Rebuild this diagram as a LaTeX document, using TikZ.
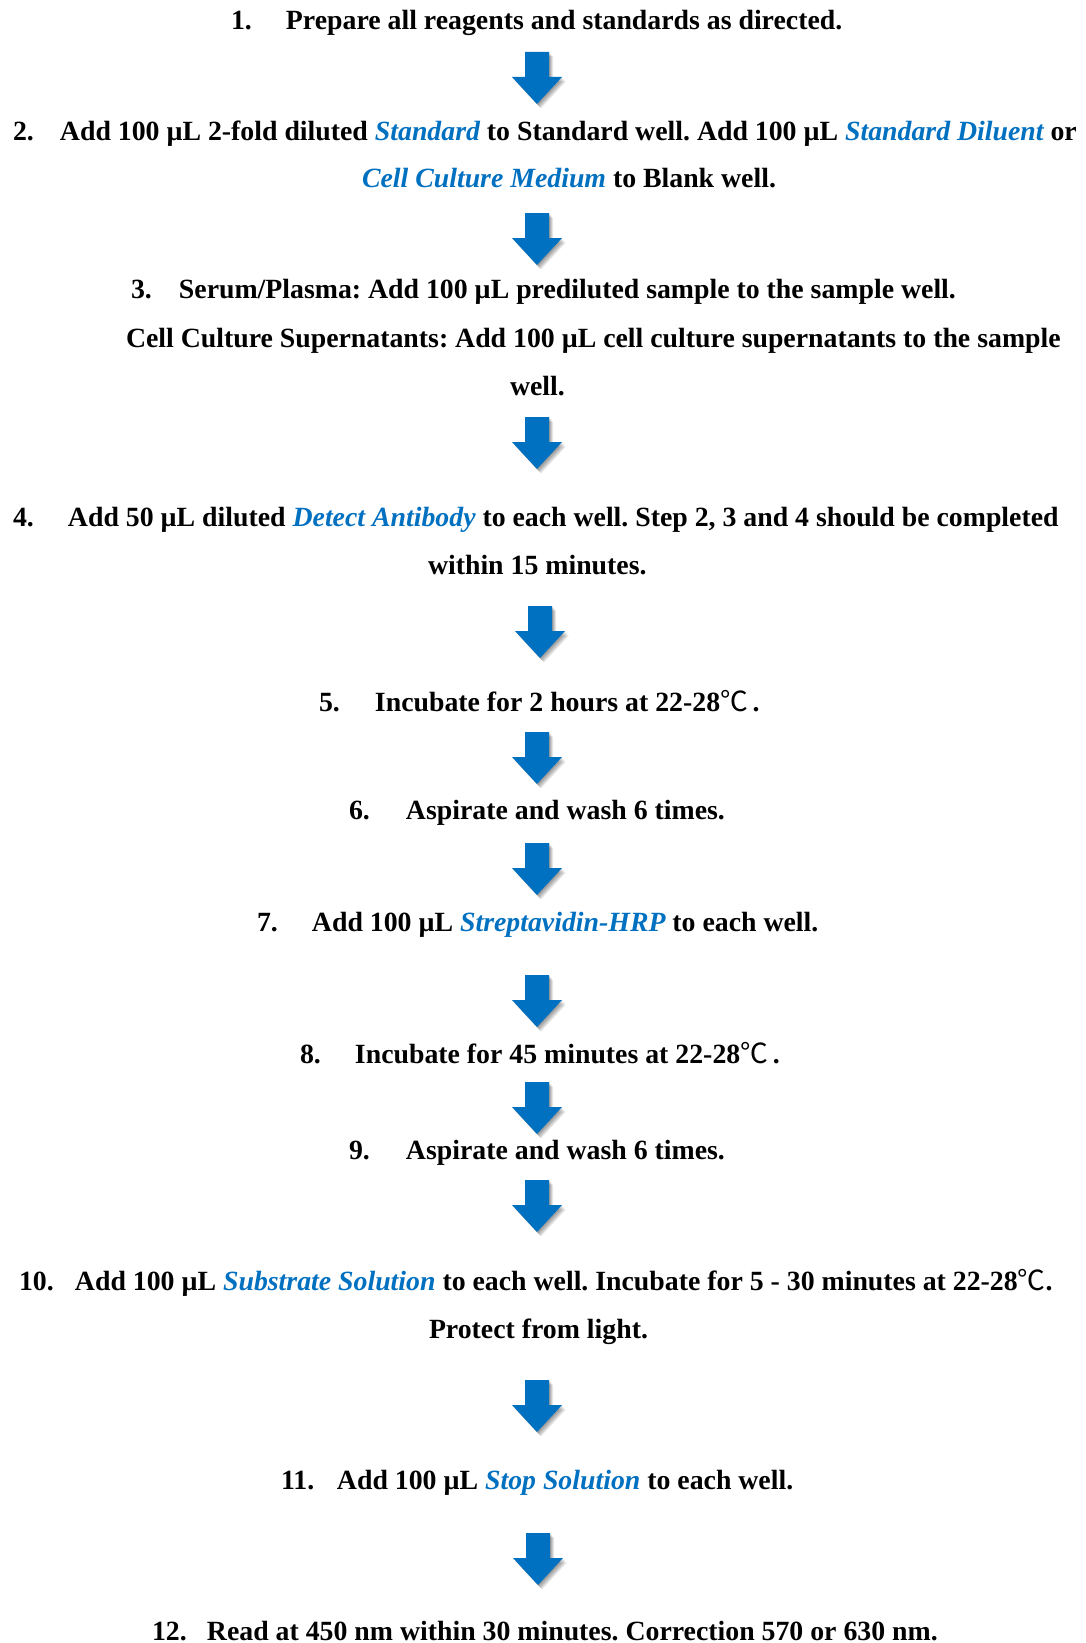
\documentclass[tikz,border=0pt]{standalone}
\usepackage{fontspec}
\setmainfont{Liberation Serif}
\newfontfamily\cjkfont{Noto Sans CJK SC}
\definecolor{ablue}{RGB}{0,112,192}
\newcommand{\hl}[1]{{\color{ablue}\itshape #1}}
\newcommand{\degc}{{\cjkfont\mdseries ℃}}
\newcommand{\num}[2]{\makebox[#1pt][l]{#2}}
\frenchspacing
\tikzset{
  txt/.style={anchor=base west, inner sep=0pt, outer sep=0pt, font=\fontsize{27.8}{32}\selectfont\bfseries},
  arrowfill/.style={fill=ablue},
  shadowfill/.style={fill=black, opacity=0.09}
}
\newcommand{\blockarrow}[3]{%
  \coordinate (#1) at (#2,#3);
  \foreach \d in {1,2,3,4,5}{
    \fill[shadowfill] ([shift={(\d*0.8,\d*0.9)}]#1) ++(-12,0) -- ++(24,0) -- ++(0,25) -- ++(13,0) -- ++(-25,27) -- ++(-25,-27) -- ++(13,0) -- cycle;
  }
  \fill[arrowfill] (#1) ++(-12,0) -- ++(24,0) -- ++(0,25) -- ++(13,0) -- ++(-25,27) -- ++(-25,-27) -- ++(13,0) -- cycle;
}
\begin{document}
\begin{tikzpicture}[x=1pt,y=-1pt]
\useasboundingbox (0,0) rectangle (1085,1643);
\fill[white] (0,0) rectangle (1085,1643);

\node[txt] (s1) at (231,30) {\num{55}{1.}Prepare all reagents and standards as directed.};

\node[txt] (s2a) at (13,140) {\num{47}{2.}Add 100 µL 2-fold diluted \hl{Standard} to Standard well. Add 100 µL \hl{Standard Diluent} or};
\node[txt] (s2b) at (362,187) {\hl{Cell Culture Medium} to Blank well.};

\node[txt] (s3a) at (131,298) {\num{48}{3.}Serum/Plasma: Add 100 µL prediluted sample to the sample well.};
\node[txt] (s3b) at (126,347) {Cell Culture Supernatants: Add 100 µL cell culture supernatants to the sample};
\node[txt] (s3c) at (510,395) {well.};

\node[txt] (s4a) at (13,526) {\num{55}{4.}Add 50 µL diluted \hl{Detect Antibody} to each well. Step 2, 3 and 4 should be completed};
\node[txt] (s4b) at (428,574) {within 15 minutes.};

\node[txt] (s5) at (319,711) {\num{56}{5.}Incubate for 2 hours at 22-28\degc\,.};
\node[txt] (s6) at (349,819) {\num{57}{6.}Aspirate and wash 6 times.};
\node[txt] (s7) at (257,931) {\num{55}{7.}Add 100 µL \hl{Streptavidin-HRP} to each well.};
\node[txt] (s8) at (300,1063) {\num{55}{8.}Incubate for 45 minutes at 22-28\degc\,.};
\node[txt] (s9) at (349,1159) {\num{57}{9.}Aspirate and wash 6 times.};
\node[txt] (s10a) at (19,1290) {\num{56}{10.}Add 100 µL \hl{Substrate Solution} to each well. Incubate for 5 - 30 minutes at 22-28\degc.};
\node[txt] (s10b) at (429,1338) {Protect from light.};
\node[txt] (s11) at (281,1489) {\num{56}{11.}Add 100 µL \hl{Stop Solution} to each well.};
\node[txt] (s12) at (152,1640) {\num{55}{12.}Read at 450 nm within 30 minutes. Correction 570 or 630 nm.};

\blockarrow{a1}{537}{52}
\blockarrow{a2}{537}{213}
\blockarrow{a3}{537}{417}
\blockarrow{a4}{540}{606}
\blockarrow{a5}{537}{732}
\blockarrow{a6}{537}{843}
\blockarrow{a7}{537}{975}
\blockarrow{a8}{537}{1082}
\blockarrow{a9}{537}{1180}
\blockarrow{a10}{537}{1380}
\blockarrow{a11}{538}{1533}
\end{tikzpicture}
\end{document}
